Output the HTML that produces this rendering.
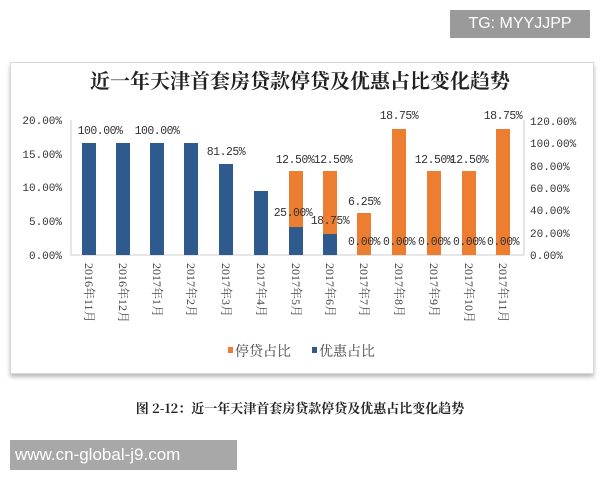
<!DOCTYPE html>
<html><head><meta charset="utf-8"><style>
body{margin:0;width:600px;height:480px;background:#fff;position:relative;overflow:hidden;font-family:"Liberation Serif","Noto Serif CJK SC",serif}
.frame{position:absolute;left:10px;top:62px;width:582px;height:310px;border:1px solid #d8d8d8;box-shadow:0 3px 4px #bbb;background:#fff}
.tg{position:absolute;left:450px;top:10px;width:140px;height:28px;background:#9a9a9a;color:#fff;font:16px "Liberation Sans",sans-serif;line-height:28px;text-align:center}
.www{position:absolute;left:10px;top:440px;width:227px;height:30px;background:#a8a8a8;color:#fff;font:17px "Liberation Sans",sans-serif;line-height:30px;padding-left:5px;box-sizing:border-box}
</style></head><body>
<div class="frame"></div>
<div class="tg">TG: MYYJJPP</div>
<svg width="600" height="480" style="position:absolute;left:0;top:0" font-family="Liberation Serif,Noto Serif CJK SC,serif">
<text x="300" y="88" text-anchor="middle" font-size="20" font-weight="bold" fill="#222" font-family="Noto Serif CJK SC,serif">近一年天津首套房贷款停贷及优惠占比变化趋势</text>
<g font-size="11" fill="#333" font-family="Liberation Mono,monospace">
<text x="62" y="124" text-anchor="end">20.00%</text>
<text x="62" y="158" text-anchor="end">15.00%</text>
<text x="62" y="191" text-anchor="end">10.00%</text>
<text x="62" y="225" text-anchor="end">5.00%</text>
<text x="62" y="259" text-anchor="end">0.00%</text>
<text x="530" y="125">120.00%</text>
<text x="530" y="147">100.00%</text>
<text x="530" y="170">80.00%</text>
<text x="530" y="192">60.00%</text>
<text x="530" y="214">40.00%</text>
<text x="530" y="237">20.00%</text>
<text x="530" y="259">0.00%</text>
</g>
<line x1="71" y1="120" x2="71" y2="255" stroke="#ccc"/>
<line x1="71" y1="255" x2="524" y2="255" stroke="#ccc"/>
<line x1="524" y1="120" x2="524" y2="255" stroke="#ccc"/>
<g fill="#2e5a8e">
<rect x="82" y="143" width="14" height="112"/>
<rect x="116" y="143" width="14" height="112"/>
<rect x="150" y="143" width="14" height="112"/>
<rect x="184" y="143" width="14" height="112"/>
<rect x="219" y="164" width="14" height="91"/>
<rect x="254" y="191" width="14" height="64"/>
<rect x="289" y="227" width="14" height="28"/>
<rect x="323" y="234" width="14" height="21"/>
</g>
<g fill="#ed7d31">
<rect x="289" y="171" width="14" height="56"/>
<rect x="323" y="171" width="14" height="63"/>
<rect x="357" y="213" width="14" height="42"/>
<rect x="392" y="129" width="14" height="126"/>
<rect x="427" y="171" width="14" height="84"/>
<rect x="462" y="171" width="14" height="84"/>
<rect x="496" y="129" width="14" height="126"/>
</g>
<g font-size="11.5" fill="#333" text-anchor="middle" font-family="Liberation Mono,monospace" letter-spacing="-0.5">
<text x="100" y="134">100.00%</text>
<text x="157" y="134">100.00%</text>
<text x="226" y="155">81.25%</text>
<text x="295" y="163">12.50%</text>
<text x="333" y="163">12.50%</text>
<text x="293" y="216">25.00%</text>
<text x="330" y="224">18.75%</text>
<text x="364" y="205">6.25%</text>
<text x="399" y="119">18.75%</text>
<text x="503" y="119">18.75%</text>
<text x="434" y="163">12.50%</text>
<text x="469" y="163">12.50%</text>
<text x="364" y="245">0.00%</text>
<text x="399" y="245">0.00%</text>
<text x="434" y="245">0.00%</text>
<text x="469" y="245">0.00%</text>
<text x="503" y="245">0.00%</text>
</g>
<g font-size="12" fill="#444">
<text transform="translate(85,263) rotate(90)">2016年11月</text>
<text transform="translate(119,263) rotate(90)">2016年12月</text>
<text transform="translate(153,263) rotate(90)">2017年1月</text>
<text transform="translate(187,263) rotate(90)">2017年2月</text>
<text transform="translate(222,263) rotate(90)">2017年3月</text>
<text transform="translate(257,263) rotate(90)">2017年4月</text>
<text transform="translate(292,263) rotate(90)">2017年5月</text>
<text transform="translate(326,263) rotate(90)">2017年6月</text>
<text transform="translate(360,263) rotate(90)">2017年7月</text>
<text transform="translate(395,263) rotate(90)">2017年8月</text>
<text transform="translate(430,263) rotate(90)">2017年9月</text>
<text transform="translate(465,263) rotate(90)">2017年10月</text>
<text transform="translate(499,263) rotate(90)">2017年11月</text>
</g>
<rect x="228" y="347" width="5" height="6" fill="#ed7d31"/>
<text x="235" y="356" font-size="14" fill="#444" font-family="Noto Serif CJK SC,serif">停贷占比</text>
<rect x="312" y="347" width="5" height="6" fill="#2e5a8e"/>
<text x="319" y="356" font-size="14" fill="#444" font-family="Noto Serif CJK SC,serif">优惠占比</text>
<text x="300" y="413" text-anchor="middle" font-size="13" font-weight="bold" fill="#222" font-family="Noto Serif CJK SC,serif">图 2-12：近一年天津首套房贷款停贷及优惠占比变化趋势</text>
</svg>
<div class="www">www.cn-global-j9.com</div>
</body></html>
